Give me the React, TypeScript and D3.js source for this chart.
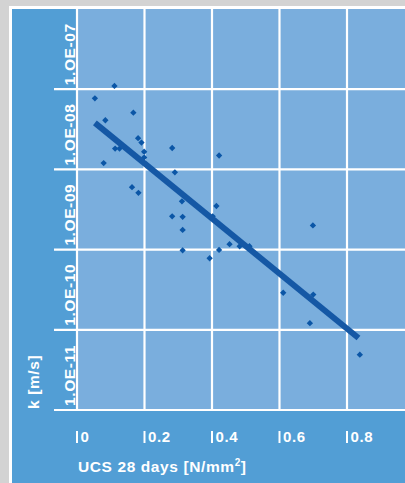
import React from "react";
import * as d3 from "d3";

// UCS 28 days [N/mm2] vs permeability k [m/s]
const ucs = [
  0.053, 0.111, 0.084, 0.167, 0.181, 0.191, 0.113, 0.126, 0.199, 0.199, 0.282,
  0.421, 0.079, 0.29, 0.163, 0.182, 0.311, 0.413, 0.282, 0.313, 0.402, 0.313,
  0.699, 0.452, 0.482, 0.511, 0.313, 0.421, 0.393, 0.611, 0.7, 0.69, 0.838,
];
const kValues = [
  7.7e-8, 1.1e-7, 4.1e-8, 5.1e-8, 2.45e-8, 2.16e-8, 1.82e-8, 1.82e-8, 1.66e-8,
  1.41e-8, 1.85e-8, 1.49e-8, 1.2e-8, 9.2e-9, 6.0e-9, 5.1e-9, 4.0e-9, 3.5e-9,
  2.6e-9, 2.56e-9, 2.6e-9, 1.76e-9, 2.0e-9, 1.17e-9, 1.1e-9, 1.1e-9, 9.8e-10,
  9.9e-10, 7.8e-10, 2.9e-10, 2.75e-10, 1.21e-10, 4.9e-11,
];
// trend line end points
const fitUcs = [0.053, 0.834];
const fitK = [3.8e-8, 7.9e-11];

const xTicks = [0, 0.2, 0.4, 0.6, 0.8];
const xTickLabels = ["0", "0.2", "0.4", "0.6", "0.8"];
const yTicks = [1e-11, 1e-10, 1e-9, 1e-8, 1e-7];
const yTickLabels = ["1.OE-11", "1.OE-10", "1.OE-09", "1.OE-08", "1.OE-07"];

const W = 405;
const H = 483;
const font = "'Liberation Sans', Arial, Helvetica, sans-serif";

const App = () => {
  const plot = { left: 77, right: 414.5, top: 9, bottom: 410 };
  const x = d3.scaleLinear().domain([0, 1]).range([plot.left, plot.right]);
  const y = d3.scaleLog().domain([1e-11, 1e-6]).range([plot.bottom, plot.top]);

  const diamond = d3.symbol().type(d3.symbolSquare).size(20)();
  const fitLine = d3
    .line<number>()
    .x((d) => x(d))
    .y((_, i) => y(fitK[i]));

  return (
    <svg width={W} height={H} style={{ position: "absolute", left: 0, top: 0 }}>
      <rect x={0} y={0} width={W} height={H} fill="#d3d3d3" />
      <rect x={9} y={6} width={W} height={H} fill="#ffffff" />
      <rect x={12} y={9} width={W} height={H} fill="#529ed5" />
      <rect
        x={plot.left}
        y={plot.top}
        width={plot.right - plot.left}
        height={plot.bottom - plot.top}
        fill="#7aaedd"
      />

      {/* grid */}
      {xTicks.map((t) => (
        <line key={"gx" + t} x1={x(t)} x2={x(t)} y1={plot.top} y2={plot.bottom} stroke="#fff" strokeWidth={2.2} />
      ))}
      {yTicks.map((t) => (
        <line key={"gy" + t} x1={54} x2={plot.right} y1={y(t)} y2={y(t)} stroke="#fff" strokeWidth={2.2} />
      ))}

      {/* y tick labels */}
      {yTicks.map((t, i) => (
        <text
          key={"ly" + t}
          transform={`translate(74.5, ${y(t) - 4}) rotate(-90)`}
          fill="#fff"
          fontFamily={font}
          fontWeight="bold"
          fontSize={15.5}
          letterSpacing={0.6}
        >
          {yTickLabels[i]}
        </text>
      ))}

      {/* x tick labels */}
      {xTicks.map((t, i) => (
        <g key={"lx" + t}>
          <line x1={x(t)} x2={x(t)} y1={431} y2={443} stroke="#fff" strokeWidth={2} />
          <text x={x(t) + 3.5} y={442} fill="#fff" fontFamily={font} fontWeight="bold" fontSize={15} letterSpacing={0.6}>
            {xTickLabels[i]}
          </text>
        </g>
      ))}

      {/* axis titles */}
      <text x={78} y={472} fill="#fff" fontFamily={font} fontWeight="bold" fontSize={15.5} letterSpacing={0.6}>
        UCS 28 days [N/mm
        <tspan dy={-6} fontSize={10}>2</tspan>
        <tspan dy={6}>]</tspan>
      </text>
      <text
        transform="translate(39, 409) rotate(-90)"
        fill="#fff"
        fontFamily={font}
        fontWeight="bold"
        fontSize={15.5}
        letterSpacing={0.6}
      >
        k [m/s]
      </text>

      {/* points */}
      {ucs.map((u, i) => (
        <path
          key={"p" + i}
          d={diamond || ""}
          transform={`translate(${x(u)}, ${y(kValues[i])}) rotate(45)`}
          fill="#0b56a6"
        />
      ))}

      {/* trend */}
      <path d={fitLine(fitUcs) || ""} fill="none" stroke="#1558a5" strokeWidth={6} />
    </svg>
  );
};

export default App;
